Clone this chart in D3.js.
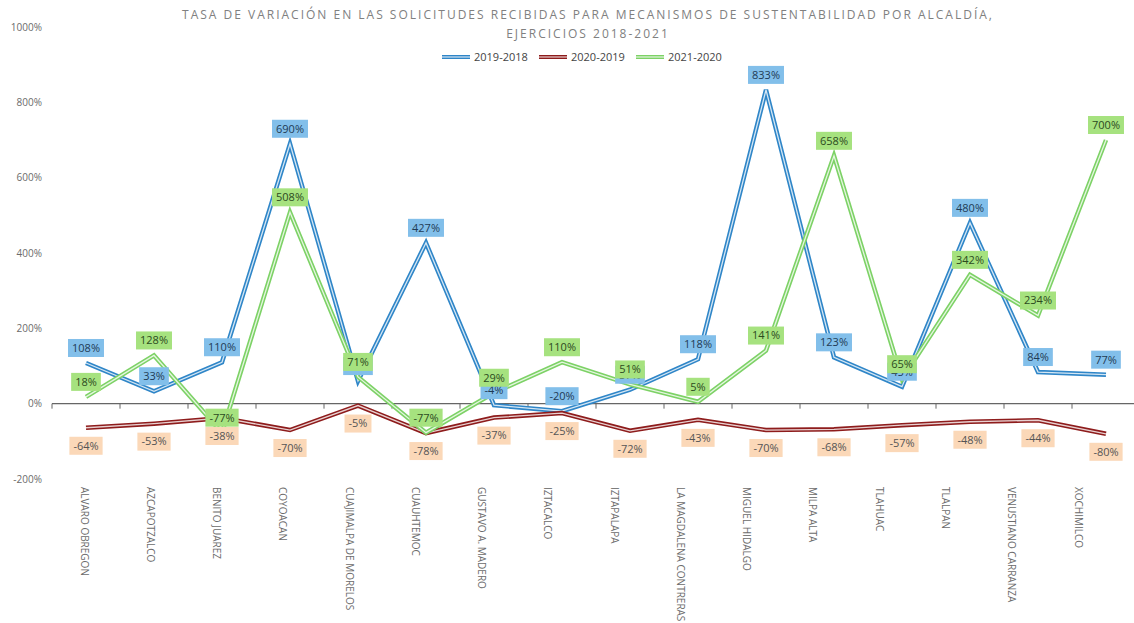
<!DOCTYPE html>
<html>
<head>
<meta charset="utf-8">
<script src="https://cdn.jsdelivr.net/npm/d3@7"></script>
<style>
  body { margin: 0; background: #fff; }
  svg { display: block; font-family: "Open Sans", sans-serif; }
</style>
</head>
<body>
<div id="chart"></div>
<script>
// Datos
const alcaldias = ["ALVARO OBREGON", "AZCAPOTZALCO", "BENITO JUAREZ", "COYOACAN",
  "CUAJIMALPA DE MORELOS", "CUAUHTEMOC", "GUSTAVO A. MADERO", "IZTACALCO", "IZTAPALAPA",
  "LA MAGDALENA CONTRERAS", "MIGUEL HIDALGO", "MILPA ALTA", "TLAHUAC", "TLALPAN",
  "VENUSTIANO CARRANZA", "XOCHIMILCO"];
const var2019_2018 = [108, 33, 110, 690, 60, 427, -4, -20, 37, 118, 833, 123, 45, 480, 84, 77];
const var2020_2019 = [-64, -53, -38, -70, -5, -78, -37, -25, -72, -43, -70, -68, -57, -48, -44, -80];
const var2021_2020 = [18, 128, -77, 508, 71, -77, 29, 110, 51, 5, 141, 658, 65, 342, 234, 700];
const yTicks = [-200, 0, 200, 400, 600, 800, 1000];
const seriesNames = ["2019-2018", "2020-2019", "2021-2020"];

(function(){
  const width = 1134, height = 623;

  const series = [
    { name: seriesNames[0], values: var2019_2018, color: "#2f86c8", box: "#82bfea", text: "#1f3b55", dy: -15 },
    { name: seriesNames[1], values: var2020_2019, color: "#8e1c1c", box: "#fbd8b8", text: "#555", dy: 18 },
    { name: seriesNames[2], values: var2021_2020, color: "#7dd266", box: "#a6e27f", text: "#2c4a1e", dy: -15 }
  ];

  const svg = d3.select("#chart").append("svg")
    .attr("width", width)
    .attr("height", height);

  // Escalas
  const x = d3.scalePoint().domain(alcaldias).range([86, 1106]);
  const xLabel = d3.scalePoint().domain(alcaldias).range([84, 1078]);
  const y = d3.scaleLinear().domain([-200, 1000]).range([479, 27]);
  const step = x.step();

  // Titulo
  const title = svg.append("text")
    .attr("text-anchor", "middle")
    .style("font-size", "12px")
    .style("letter-spacing", "2px")
    .style("fill", "#808080");
  title.append("tspan").attr("x", 588).attr("y", 19)
    .text("TASA DE VARIACIÓN EN LAS SOLICITUDES RECIBIDAS PARA MECANISMOS DE SUSTENTABILIDAD POR ALCALDÍA,");
  title.append("tspan").attr("x", 588).attr("y", 38)
    .text("EJERCICIOS 2018-2021");

  // Leyenda
  const legendX = [442, 539, 636];
  const legend = svg.selectAll(".legend")
    .data(series)
    .enter().append("g")
    .attr("class", "legend")
    .attr("transform", (d, i) => "translate(" + legendX[i] + ",57)");
  legend.append("line")
    .attr("x1", 0).attr("x2", 28)
    .style("stroke", d => d.color).style("stroke-width", 4);
  legend.append("line")
    .attr("x1", 0).attr("x2", 28)
    .style("stroke", "#fff").style("stroke-width", 1.2).style("opacity", 0.8);
  legend.append("text")
    .attr("x", 32).attr("dy", "0.35em")
    .style("font-size", "11px")
    .style("fill", "#444")
    .text(d => d.name);

  // Eje Y
  svg.selectAll(".ytick")
    .data(yTicks)
    .enter().append("text")
    .attr("class", "ytick")
    .attr("x", 42)
    .attr("y", d => y(d))
    .attr("dy", "0.35em")
    .attr("text-anchor", "end")
    .style("font-size", "10px")
    .style("fill", "#6b6b6b")
    .text(d => d + "%");

  // Linea del cero con marcas
  svg.append("line")
    .attr("x1", x(alcaldias[0]) - step / 2).attr("x2", width)
    .attr("y1", y(0)).attr("y2", y(0))
    .style("stroke", "#666").style("stroke-width", 1.2);
  const bounds = alcaldias.map(c => x(c) - step / 2).concat([x(alcaldias[alcaldias.length - 1]) + step / 2]);
  svg.selectAll(".xtick")
    .data(bounds)
    .enter().append("line")
    .attr("class", "xtick")
    .attr("x1", d => d).attr("x2", d => d)
    .attr("y1", y(0)).attr("y2", y(0) + 5)
    .style("stroke", "#666");

  // Etiquetas del eje X
  svg.selectAll(".xlabel")
    .data(alcaldias)
    .enter().append("text")
    .attr("class", "xlabel")
    .attr("transform", d => "translate(" + xLabel(d) + ",487) rotate(90)")
    .attr("dy", "0.35em")
    .style("font-size", "10px")
    .style("fill", "#6b6b6b")
    .text(d => d);

  // Lineas
  const line = d3.line()
    .x((d, i) => x(alcaldias[i]))
    .y(d => y(d));

  series.forEach(s => {
    svg.append("path")
      .datum(s.values)
      .attr("d", line)
      .style("fill", "none")
      .style("stroke", s.color)
      .style("stroke-width", 4.5)
      .style("stroke-linejoin", "miter");
    svg.append("path")
      .datum(s.values)
      .attr("d", line)
      .style("fill", "none")
      .style("stroke", "#fff")
      .style("stroke-width", 1.3)
      .style("opacity", 0.8);
  });

  // Etiquetas de datos
  series.forEach(s => {
    const g = svg.selectAll(".lbl-" + s.name)
      .data(s.values)
      .enter().append("g")
      .attr("transform", (d, i) => "translate(" + x(alcaldias[i]) + "," + (y(d) + s.dy) + ")");
    g.append("rect").style("fill", s.box);
    const txt = g.append("text")
      .attr("text-anchor", "middle")
      .attr("dy", "0.35em")
      .style("font-size", "11px")
      .style("fill", s.text)
      .text(d => d + "%");
    txt.each(function() {
      const w = this.getComputedTextLength();
      d3.select(this.parentNode).select("rect")
        .attr("x", -w / 2 - 4).attr("y", -9)
        .attr("width", w + 8).attr("height", 18);
    });
  });
})();
</script>
</body>
</html>
